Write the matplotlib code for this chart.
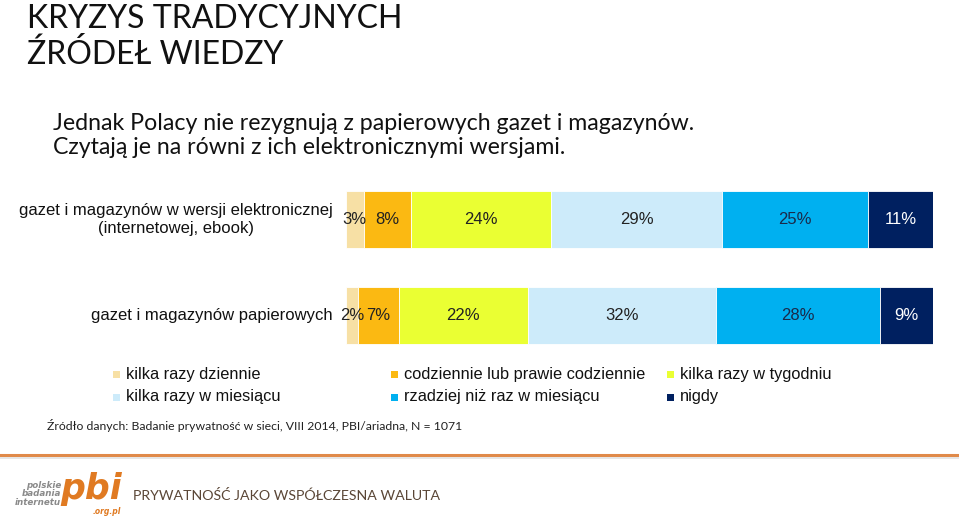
import matplotlib
matplotlib.use("Agg")
import matplotlib.pyplot as plt
from matplotlib.patches import Rectangle
from matplotlib.lines import Line2D

categories = ["gazet i magazynów w wersji elektronicznej\n(internetowej, ebook)",
              "gazet i magazynów papierowych"]
series_names = ["kilka razy dziennie", "codziennie lub prawie codziennie", "kilka razy w tygodniu",
                "kilka razy w miesiącu", "rzadziej niż raz w miesiącu", "nigdy"]
values = [
    [3, 2],
    [8, 7],
    [24, 22],
    [29, 32],
    [25, 28],
    [11, 9],
]
colors = ["#F7E0A5", "#FBB912", "#EAFF33", "#CDEBFA", "#00B0F0", "#002060"]
text_colors = ["#222222", "#222222", "#222222", "#222222", "#1a2a4a", "white"]

fig = plt.figure(figsize=(9.59, 5.19), dpi=100)
W, H = 959, 519

def fx(x):
    return x / W
def fy(y):
    return 1 - y / H

title_font = ["Lato", "DejaVu Sans"]
body_font = ["Liberation Sans", "DejaVu Sans"]
narrow_font = ["Liberation Sans Narrow", "Liberation Sans", "DejaVu Sans"]

# Title
fig.text(fx(27), fy(28), "KRYZYS TRADYCYJNYCH", family=title_font,
         fontsize=23, va="baseline", ha="left", color="#111111")
fig.text(fx(27), fy(64), "ŹRÓDEŁ WIEDZY", family=title_font,
         fontsize=23, va="baseline", ha="left", color="#111111")
# Subtitle
fig.text(fx(53), fy(130), "Jednak Polacy nie rezygnują z papierowych gazet i magazynów.",
         family=title_font, fontsize=16.7, va="baseline", ha="left", color="#111111")
fig.text(fx(53), fy(154), "Czytają je na równi z ich elektronicznymi wersjami.",
         family=title_font, fontsize=16.7, va="baseline", ha="left", color="#111111")

# Bars
ax = fig.add_axes([fx(346), fy(363.5), fx(933) - fx(346), (363.5 - 171.5) / H])
n = len(categories)
lefts = [0] * n
for si, (name, vals) in enumerate(zip(series_names, values)):
    ax.barh(range(n), vals, left=lefts, height=0.595, color=colors[si],
            edgecolor="white", linewidth=0.6, label=name)
    for i, v in enumerate(vals):
        ax.text(lefts[i] + v / 2, i, f"{v}%", ha="center", va="center",
                fontsize=12, family=body_font, color=text_colors[si])
    lefts = [l + v for l, v in zip(lefts, vals)]
ax.set_xlim(0, 100)
ax.set_ylim(1.5, -0.5)
ax.axis("off")

# Category labels
ax.text(-2.2, 0, categories[0], ha="right", va="center", multialignment="center",
        fontsize=12, family=body_font, color="#111111", transform=ax.transData, linespacing=1.2)
ax.text(-2.2, 1, categories[1], ha="right", va="center",
        fontsize=12, family=body_font, color="#111111", transform=ax.transData)

# Legend (manual)
leg_pos = [(117, 374), (395, 374), (671, 374), (117, 397), (395, 397), (671, 397)]
for (x, y), name, c in zip(leg_pos, series_names, colors):
    fig.patches.append(Rectangle((fx(x - 4), fy(y + 4)), 7 / W, 7 / H, transform=fig.transFigure,
                                 facecolor=c, edgecolor="none"))
    fig.text(fx(x + 9), fy(y), name, family=narrow_font, fontsize=11.8, va="center", ha="left",
             color="#111111")

# Source
fig.text(fx(47), fy(425), "Źródło danych: Badanie prywatność w sieci, VIII 2014, PBI/ariadna, N = 1071",
         family=title_font, fontsize=8.8, va="center", ha="left", color="#222222")

# Orange line
fig.lines.append(Line2D([0, 1], [fy(455), fy(455)], transform=fig.transFigure,
                        color="#E08A4A", linewidth=2.2))
fig.lines.append(Line2D([0, 1], [fy(457.5), fy(457.5)], transform=fig.transFigure,
                        color="#e2e2e2", linewidth=1.2))

# Logo
fig.text(fx(61), fy(494), "polskie\nbadania\ninternetu", family=["DejaVu Sans"], fontsize=6.3,
         fontweight="bold", style="italic", ha="right", va="center", color="#8a8a8a",
         linespacing=0.95)
fig.text(fx(60), fy(489), "pbi", family=["DejaVu Sans"], fontsize=25, fontweight="bold",
         style="italic", ha="left", va="center", color="#E07A22")
fig.text(fx(93), fy(511), ".org.pl", family=["DejaVu Sans"], fontsize=5.5, fontweight="bold",
         style="italic", ha="left", va="center", color="#E07A22")
fig.text(fx(133), fy(495), "PRYWATNOŚĆ JAKO WSPÓŁCZESNA WALUTA", family=title_font,
         fontsize=10.2, ha="left", va="center", color="#5a4636")

fig.savefig("out.png", dpi=100)
